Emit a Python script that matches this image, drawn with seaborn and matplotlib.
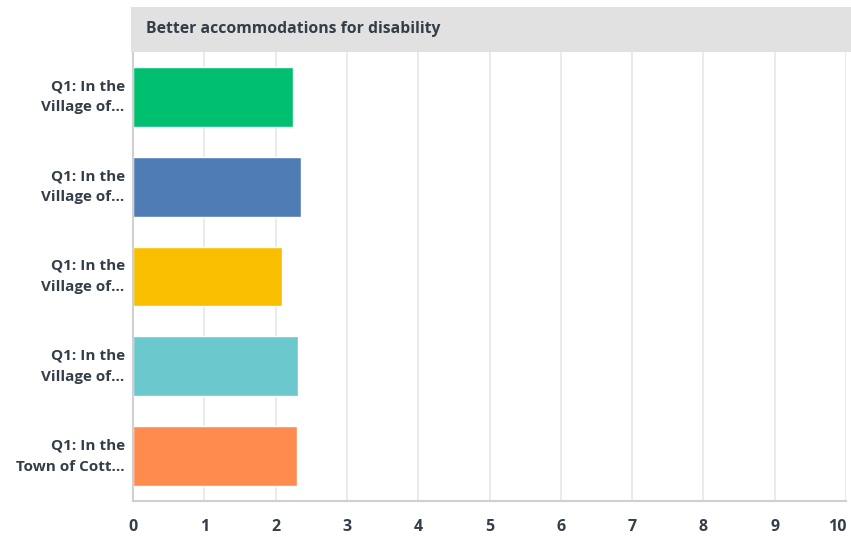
import matplotlib
matplotlib.use("Agg")
import matplotlib.pyplot as plt
from matplotlib.patches import Rectangle
from matplotlib.transforms import ScaledTranslation
import seaborn as sns
import pandas as pd

title = "Better accommodations for disability"
labels = [
    "Q1: In the\nVillage of...",
    "Q1: In the\nVillage of...",
    "Q1: In the\nVillage of...",
    "Q1: In the\nVillage of...",
    "Q1: In the\nTown of Cott...",
]
values = [2.24, 2.36, 2.09, 2.31, 2.30]
colors = ["#00BF6F", "#507CB6", "#F9BE00", "#6BC8CD", "#FF8B4F"]
xticks = list(range(0, 11))

TEXT = "#333E48"
sns.set_theme(style="white")
plt.rcParams["font.family"] = ["Open Sans", "DejaVu Sans"]

df = pd.DataFrame({"row": [str(i) for i in range(len(values))], "value": values})

W, H = 851, 537
fig = plt.figure(figsize=(W / 100, H / 100), dpi=100)
ax = fig.add_axes([133 / W, 1 - 501 / H, (846 - 133) / W, (501 - 52) / H])

sns.barplot(data=df, x="value", y="row", hue="row", palette=colors,
            orient="h", width=0.667, legend=False, ax=ax, saturation=1)

ax.set_xlim(0, 10)
ax.set_ylim(4.5, -0.5)
ax.set_xticks(xticks)
ax.set_xticklabels([str(t) for t in xticks], fontsize=11.5, fontweight="bold", color=TEXT)
ax.set_yticks(range(len(labels)))
ax.set_yticklabels(labels, fontsize=11, fontweight="bold", color=TEXT,
                   ha="right", va="center", linespacing=1.65)
ax.tick_params(axis="x", length=0, pad=13)
ax.tick_params(axis="y", length=0, pad=6)
ax.set_xlabel("")
ax.set_ylabel("")

# keep the last tick label inside the figure
last = ax.get_xticklabels()[-1]
last.set_transform(last.get_transform() + ScaledTranslation(-0.09, 0, fig.dpi_scale_trans))

ax.grid(axis="x", color="#E6E6E6", linewidth=1.2)
ax.set_axisbelow(True)
for side in ["top", "right"]:
    ax.spines[side].set_visible(False)
for side in ["left", "bottom"]:
    ax.spines[side].set_color("#D0D0D0")
    ax.spines[side].set_linewidth(1.5)

# header band above the plot
fig.patches.append(Rectangle((131 / W, 1 - 52 / H), (W - 131) / W, 45 / H,
                             transform=fig.transFigure, facecolor="#E1E1E1",
                             edgecolor="none", zorder=0))
fig.text(146 / W, 1 - 29 / H, title, fontsize=11.3, fontweight="bold",
         color=TEXT, va="center", ha="left")

fig.savefig("out.png", dpi=100)
